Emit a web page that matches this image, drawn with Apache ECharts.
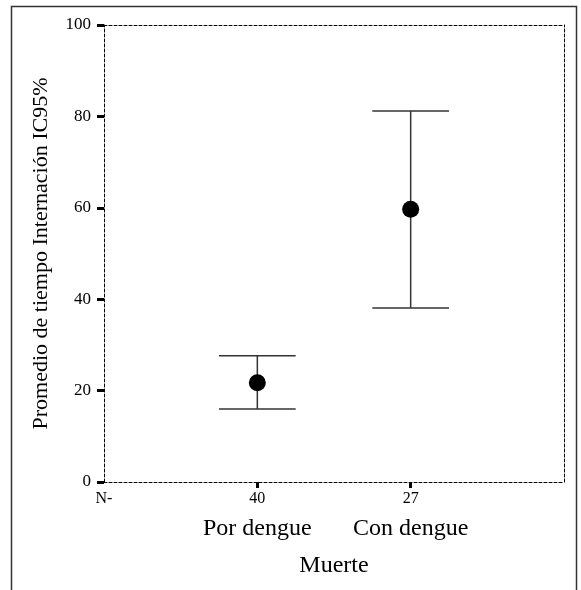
<!DOCTYPE html>
<html>
<head>
<meta charset="utf-8">
<script src="https://cdn.jsdelivr.net/npm/echarts@6/dist/echarts.min.js"></script>
<style>
  html, body { margin: 0; padding: 0; background: #fff; }
  #chart { width: 581px; height: 590px; }
</style>
</head>
<body>
<div id="chart"></div>
<script>
// categorias del eje x y tamaño de muestra
const categories = ['Por dengue', 'Con dengue'];
const counts = ['40', '27'];
// promedio e IC95%
const means = [21.7, 59.7];
const lower = [16.0, 38.1];
const upper = [27.6, 81.2];
// eje y
const yTicks = [0, 20, 40, 60, 80, 100];

const FONT = '"Liberation Serif", "DejaVu Serif", serif';

const chart = echarts.init(document.getElementById('chart'));

const dashLine = { color: '#000', width: 1, type: [3, 2] };

const option = {
  animation: false,
  backgroundColor: '#fff',
  grid: { left: 104, top: 25, right: 17, bottom: 108 },
  graphic: [
    {
      type: 'rect',
      shape: { x: 11.5, y: 6.5, width: 565, height: 600 },
      style: { fill: 'none', stroke: '#333', lineWidth: 1.5 },
      z: -1
    }
  ],
  xAxis: [
    {
      type: 'value',
      min: 0,
      max: 3,
      interval: 1,
      splitLine: { show: false },
      axisLine: { onZero: false, lineStyle: dashLine },
      axisTick: {
        show: true,
        customValues: [1, 2],
        length: 6,
        lineStyle: { color: '#000', width: 3 }
      },
      axisLabel: {
        customValues: [0, 1, 2],
        margin: 7,
        fontFamily: FONT,
        formatter: (v) => {
          if (v === 0) return '{n|N-}';
          const i = Math.round(v) - 1;
          return '{n|' + counts[i] + '}\n{c|' + categories[i] + '}';
        },
        rich: {
          n: { fontSize: 16, fontFamily: FONT, color: '#000', lineHeight: 20 },
          c: { fontSize: 24, fontFamily: FONT, color: '#000', lineHeight: 40 }
        }
      },
      name: 'Muerte',
      nameLocation: 'middle',
      nameGap: 72,
      nameTextStyle: { fontSize: 24, fontFamily: FONT, color: '#000' }
    },
    {
      type: 'value',
      position: 'top',
      min: 0,
      max: 3,
      axisLine: { show: true, onZero: false, lineStyle: dashLine },
      axisTick: { show: false },
      axisLabel: { show: false },
      splitLine: { show: false }
    }
  ],
  yAxis: [
    {
      type: 'value',
      min: 0,
      max: 100,
      interval: 20,
      splitLine: { show: false },
      axisLine: { show: true, onZero: false, lineStyle: dashLine },
      axisTick: {
        show: true,
        length: 7,
        lineStyle: { color: '#000', width: 3 }
      },
      axisLabel: {
        margin: 13,
        fontSize: 17,
        fontFamily: FONT,
        color: '#000',
        formatter: (v) => (yTicks.includes(v) ? String(v) : '')
      },
      name: 'Promedio de tiempo Internación IC95%',
      nameLocation: 'middle',
      nameGap: 52,
      nameTextStyle: { fontSize: 22, fontFamily: FONT, color: '#000' }
    },
    {
      type: 'value',
      position: 'right',
      min: 0,
      max: 100,
      axisLine: { show: true, onZero: false, lineStyle: dashLine },
      axisTick: { show: false },
      axisLabel: { show: false },
      splitLine: { show: false }
    }
  ],
  series: [
    {
      // barras de error IC95%
      type: 'custom',
      xAxisIndex: 0,
      yAxisIndex: 0,
      data: means.map((m, i) => [i + 1, lower[i], upper[i]]),
      renderItem: (params, api) => {
        const x = api.value(0);
        const lo = api.coord([x, api.value(1)]);
        const hi = api.coord([x, api.value(2)]);
        const loL = api.coord([x - 0.25, api.value(1)]);
        const loR = api.coord([x + 0.25, api.value(1)]);
        const hiL = api.coord([x - 0.25, api.value(2)]);
        const hiR = api.coord([x + 0.25, api.value(2)]);
        const style = { stroke: '#333', lineWidth: 1.5 };
        return {
          type: 'group',
          children: [
            { type: 'line', shape: { x1: lo[0], y1: lo[1], x2: hi[0], y2: hi[1] }, style },
            { type: 'line', shape: { x1: loL[0], y1: loL[1], x2: loR[0], y2: loR[1] }, style },
            { type: 'line', shape: { x1: hiL[0], y1: hiL[1], x2: hiR[0], y2: hiR[1] }, style }
          ]
        };
      },
      z: 2
    },
    {
      // promedios
      type: 'scatter',
      xAxisIndex: 0,
      yAxisIndex: 0,
      symbol: 'circle',
      symbolSize: 17,
      itemStyle: { color: '#000', opacity: 1 },
      data: means.map((m, i) => [i + 1, m]),
      z: 3
    }
  ]
};

chart.setOption(option);
</script>
</body>
</html>
